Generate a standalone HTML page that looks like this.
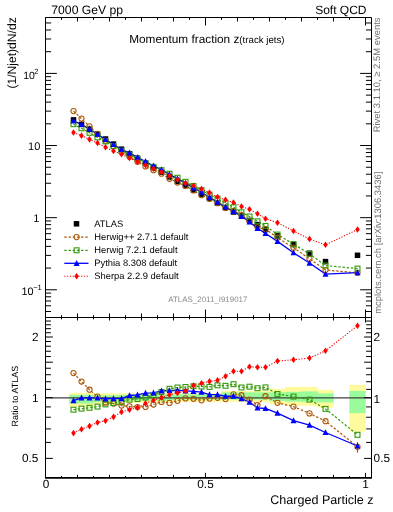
<!DOCTYPE html>
<html><head><meta charset="utf-8"><style>html,body{margin:0;padding:0;background:#fff;width:393px;height:512px;overflow:hidden}</style></head><body><svg width="393" height="512" viewBox="0 0 393 512" style="display:block;will-change:transform;text-rendering:geometricPrecision">
<rect width="393" height="512" fill="#fff"/>
<path d="M69.5 393H77.5V406.5H69.5ZM77.5 393H85.5V406.5H77.5ZM85.5 393H93.5V406.5H85.5ZM93.5 393.5H101.5V404.5H93.5ZM101.5 393.5H109.5V404.5H101.5ZM109.5 393.5H117.5V404.5H109.5ZM117.5 393.5H125.5V402.5H117.5ZM125.5 393.5H133.5V402.5H125.5ZM133.5 393.5H141.5V402.5H133.5ZM141.5 393.5H149.5V402.5H141.5ZM149.5 393.5H157.5V402.5H149.5ZM157.5 393.5H165.5V402.5H157.5ZM165.5 393.5H173.5V402.5H165.5ZM173.5 393.4H181.5V401.8H173.5ZM181.5 393.4H189.5V401.8H181.5ZM189.5 393.4H197.5V401.8H189.5ZM197.5 393.4H205.5V401.8H197.5ZM205.5 393.4H213.5V401.8H205.5ZM213.5 393.4H221.5V401.8H213.5ZM221.5 391H229.5V401.8H221.5ZM229.5 391H237.5V401.8H229.5ZM237.5 391H245.5V401.8H237.5ZM245.5 391H253.5V401.8H245.5ZM253.5 391H261.5V401.8H253.5ZM261.5 391H269.5V401.8H261.5ZM269.5 388.9H285.5V404H269.5ZM285.5 387.1H301.5V405.4H285.5ZM301.5 387.1H317.5V405.8H301.5ZM317.5 390H333.5V407.5H317.5ZM349.5 385H365.5V431.4H349.5Z" fill="#fffa9e" stroke="#fffa9e" stroke-width="0.3"/>
<path d="M69.5 395H77.5V403.5H69.5ZM77.5 395H85.5V403.5H77.5ZM85.5 395H93.5V403.5H85.5ZM93.5 395.5H101.5V402H93.5ZM101.5 395.5H109.5V402H101.5ZM109.5 395.5H117.5V402H109.5ZM117.5 395H125.5V400.5H117.5ZM125.5 395H133.5V400.5H125.5ZM133.5 395H141.5V400.5H133.5ZM141.5 395H149.5V400.5H141.5ZM149.5 395H157.5V400.5H149.5ZM157.5 395H165.5V400.5H157.5ZM165.5 395H173.5V400.5H165.5ZM173.5 394.6H181.5V399.6H173.5ZM181.5 394.6H189.5V399.6H181.5ZM189.5 394.6H197.5V399.6H189.5ZM197.5 394.6H205.5V399.6H197.5ZM205.5 394.6H213.5V399.6H205.5ZM213.5 394.6H221.5V399.6H213.5ZM221.5 392.6H229.5V399.5H221.5ZM229.5 392.6H237.5V399.5H229.5ZM237.5 392.6H245.5V399.5H237.5ZM245.5 392.6H253.5V399.5H245.5ZM253.5 392.6H261.5V399.5H253.5ZM261.5 392.6H269.5V399.5H261.5ZM269.5 392.5H285.5V400.9H269.5ZM285.5 392H301.5V401.4H285.5ZM301.5 391.5H317.5V401.8H301.5ZM317.5 393.5H333.5V402.3H317.5ZM349.5 391.1H365.5V413H349.5Z" fill="#99fb99" stroke="#99fb99" stroke-width="0.3"/>
<line x1="45.5" y1="397.95" x2="371.5" y2="397.95" stroke="#404040" stroke-width="1.2"/>
<defs><clipPath id="cu"><rect x="45.5" y="17.5" width="326" height="300"/></clipPath><clipPath id="cr"><rect x="45.5" y="317.5" width="326" height="160"/></clipPath></defs>
<polyline points="73.5,111.1 81.5,118.6 89.5,126.34 97.5,133.81 105.5,140.72 113.5,146.21 121.5,152.03 129.5,156.81 137.5,161.63 145.5,166.39 153.5,170.13 161.5,173.7 169.5,178.76 177.5,182.51 185.5,185.85 193.5,190.48 201.5,195.13 209.5,198.82 217.5,203.24 225.5,208 233.5,210.82 241.5,215.11 249.5,221.08 257.5,227.31 265.5,229.06 277.5,237.72 293.5,247.68 309.5,258.82 325.5,270.01 357.5,272.87" fill="none" stroke="#ad5708" stroke-width="1.2" stroke-dasharray="2.4 1.8" clip-path="url(#cu)"/>
<polyline points="73.5,373.1 81.5,381.5 89.5,389.7 97.5,396.6 105.5,402.5 113.5,403.6 121.5,405.6 129.5,406.4 137.5,407 145.5,406.9 153.5,404.5 161.5,401.9 169.5,402.9 177.5,400.8 185.5,398.4 193.5,398.75 201.5,400.3 209.5,398.6 217.5,397.8 225.5,399.1 233.5,394.4 241.5,395.2 249.5,399.6 257.5,405 265.5,396.2 277.5,402.8 293.5,406.6 309.5,413.4 325.5,421.2 357.5,446.8" fill="none" stroke="#ad5708" stroke-width="1.2" stroke-dasharray="2.4 1.8" clip-path="url(#cr)"/>
<polyline points="73.5,124.19 81.5,128.3 89.5,132.81 97.5,137.38 105.5,141.4 113.5,146.03 121.5,150.74 129.5,154.42 137.5,158.77 145.5,163.03 153.5,166.81 161.5,170.16 169.5,173.72 177.5,177.75 185.5,181.77 193.5,186 201.5,190.19 209.5,194.64 217.5,198.76 225.5,203.24 233.5,207.17 241.5,212.35 249.5,216.46 257.5,221.3 265.5,225.91 277.5,234.58 293.5,244.11 309.5,253.88 325.5,265.61 357.5,268.57" fill="none" stroke="#349a08" stroke-width="1.2" stroke-dasharray="2.4 1.8" clip-path="url(#cu)"/>
<polyline points="73.5,409.7 81.5,408.6 89.5,407.8 97.5,406.6 105.5,404.4 113.5,403.1 121.5,402 129.5,399.7 137.5,399 145.5,397.5 153.5,395.2 161.5,392 169.5,388.8 177.5,387.5 185.5,387 193.5,386.25 201.5,386.5 209.5,386.9 217.5,385.3 225.5,385.8 233.5,384.2 241.5,387.5 249.5,386.7 257.5,388.2 265.5,387.4 277.5,394 293.5,396.6 309.5,399.6 325.5,408.9 357.5,434.8" fill="none" stroke="#349a08" stroke-width="1.2" stroke-dasharray="2.4 1.8" clip-path="url(#cr)"/>
<polyline points="73.5,120.94 81.5,124.44 89.5,129.24 97.5,134.24 105.5,139.43 113.5,144.42 121.5,149.52 129.5,152.91 137.5,157.26 145.5,161.45 153.5,165.95 161.5,169.77 169.5,174.4 177.5,178.75 185.5,183.17 193.5,187.85 201.5,192.23 209.5,197.43 217.5,202.13 225.5,206.98 233.5,211.46 241.5,216.32 249.5,222.01 257.5,228.31 265.5,233.46 277.5,241.41 293.5,252.73 309.5,263.04 325.5,274.05 357.5,272.58" fill="none" stroke="#0000ff" stroke-width="1.3" clip-path="url(#cu)"/>
<polyline points="73.5,400.6 81.5,397.8 89.5,397.8 97.5,397.8 105.5,398.9 113.5,398.6 121.5,398.6 129.5,395.5 137.5,394.8 145.5,393.1 153.5,392.8 161.5,390.9 169.5,390.7 177.5,390.3 185.5,390.9 193.5,391.4 201.5,392.2 209.5,394.7 217.5,394.7 225.5,396.25 233.5,396.2 241.5,398.6 249.5,402.2 257.5,407.8 265.5,408.5 277.5,413.1 293.5,420.7 309.5,425.2 325.5,432.5 357.5,446" fill="none" stroke="#0000ff" stroke-width="1.3" clip-path="url(#cr)"/>
<polyline points="73.5,132.57 81.5,135.67 89.5,139.36 97.5,143.07 105.5,147.26 113.5,150.97 121.5,154.28 129.5,158.03 137.5,161.84 145.5,165.14 153.5,168.63 161.5,172.13 169.5,175.83 177.5,179.72 185.5,183.17 193.5,185.77 201.5,189.01 209.5,192.67 217.5,196.97 225.5,199.83 233.5,202.52 241.5,206.52 249.5,209.31 257.5,213.79 265.5,218.69 277.5,222.77 293.5,230.94 309.5,239 325.5,244.82 357.5,229.54" fill="none" stroke="#ff0000" stroke-width="1.1" stroke-dasharray="1.2 1.6" clip-path="url(#cu)"/>
<polyline points="73.5,433.1 81.5,429.2 89.5,426.1 97.5,422.5 105.5,420.8 113.5,416.9 121.5,411.9 129.5,409.8 137.5,407.6 145.5,403.4 153.5,400.3 161.5,397.5 169.5,394.7 177.5,393 185.5,390.9 193.5,385.6 201.5,383.2 209.5,381.4 217.5,380.3 225.5,376.25 233.5,371.2 241.5,371.2 249.5,366.7 257.5,367.2 265.5,367.2 277.5,361 293.5,359.8 309.5,358 325.5,350.8 357.5,325.7" fill="none" stroke="#ff0000" stroke-width="1.1" stroke-dasharray="1.2 1.6" clip-path="url(#cr)"/>
<line x1="357.5" y1="442" x2="357.5" y2="452.6" stroke="#ad5708" stroke-width="1.2"/>
<rect x="70.75" y="117.15" width="5.5" height="5.5" fill="#000"/>
<rect x="78.75" y="121.65" width="5.5" height="5.5" fill="#000"/>
<rect x="86.75" y="126.45" width="5.5" height="5.5" fill="#000"/>
<rect x="94.75" y="131.45" width="5.5" height="5.5" fill="#000"/>
<rect x="102.75" y="136.25" width="5.5" height="5.5" fill="#000"/>
<rect x="110.75" y="141.35" width="5.5" height="5.5" fill="#000"/>
<rect x="118.75" y="146.45" width="5.5" height="5.5" fill="#000"/>
<rect x="126.75" y="150.95" width="5.5" height="5.5" fill="#000"/>
<rect x="134.75" y="155.55" width="5.5" height="5.5" fill="#000"/>
<rect x="142.75" y="160.35" width="5.5" height="5.5" fill="#000"/>
<rect x="150.75" y="164.95" width="5.5" height="5.5" fill="#000"/>
<rect x="158.75" y="169.45" width="5.5" height="5.5" fill="#000"/>
<rect x="166.75" y="174.15" width="5.5" height="5.5" fill="#000"/>
<rect x="174.75" y="178.65" width="5.5" height="5.5" fill="#000"/>
<rect x="182.75" y="182.85" width="5.5" height="5.5" fill="#000"/>
<rect x="190.75" y="187.35" width="5.5" height="5.5" fill="#000"/>
<rect x="198.75" y="191.45" width="5.5" height="5.5" fill="#000"/>
<rect x="206.75" y="195.75" width="5.5" height="5.5" fill="#000"/>
<rect x="214.75" y="200.45" width="5.5" height="5.5" fill="#000"/>
<rect x="222.75" y="204.75" width="5.5" height="5.5" fill="#000"/>
<rect x="230.75" y="209.25" width="5.5" height="5.5" fill="#000"/>
<rect x="238.75" y="213.25" width="5.5" height="5.5" fill="#000"/>
<rect x="246.75" y="217.65" width="5.5" height="5.5" fill="#000"/>
<rect x="254.75" y="221.95" width="5.5" height="5.5" fill="#000"/>
<rect x="262.75" y="226.85" width="5.5" height="5.5" fill="#000"/>
<rect x="274.75" y="233.15" width="5.5" height="5.5" fill="#000"/>
<rect x="290.75" y="241.75" width="5.5" height="5.5" fill="#000"/>
<rect x="306.75" y="250.45" width="5.5" height="5.5" fill="#000"/>
<rect x="322.75" y="258.85" width="5.5" height="5.5" fill="#000"/>
<rect x="354.75" y="252.55" width="5.5" height="5.5" fill="#000"/>
<circle cx="73.5" cy="111.1" r="2.6" fill="none" stroke="#ad5708" stroke-width="1.05"/>
<circle cx="81.5" cy="118.6" r="2.6" fill="none" stroke="#ad5708" stroke-width="1.05"/>
<circle cx="89.5" cy="126.34" r="2.6" fill="none" stroke="#ad5708" stroke-width="1.05"/>
<circle cx="97.5" cy="133.81" r="2.6" fill="none" stroke="#ad5708" stroke-width="1.05"/>
<circle cx="105.5" cy="140.72" r="2.6" fill="none" stroke="#ad5708" stroke-width="1.05"/>
<circle cx="113.5" cy="146.21" r="2.6" fill="none" stroke="#ad5708" stroke-width="1.05"/>
<circle cx="121.5" cy="152.03" r="2.6" fill="none" stroke="#ad5708" stroke-width="1.05"/>
<circle cx="129.5" cy="156.81" r="2.6" fill="none" stroke="#ad5708" stroke-width="1.05"/>
<circle cx="137.5" cy="161.63" r="2.6" fill="none" stroke="#ad5708" stroke-width="1.05"/>
<circle cx="145.5" cy="166.39" r="2.6" fill="none" stroke="#ad5708" stroke-width="1.05"/>
<circle cx="153.5" cy="170.13" r="2.6" fill="none" stroke="#ad5708" stroke-width="1.05"/>
<circle cx="161.5" cy="173.7" r="2.6" fill="none" stroke="#ad5708" stroke-width="1.05"/>
<circle cx="169.5" cy="178.76" r="2.6" fill="none" stroke="#ad5708" stroke-width="1.05"/>
<circle cx="177.5" cy="182.51" r="2.6" fill="none" stroke="#ad5708" stroke-width="1.05"/>
<circle cx="185.5" cy="185.85" r="2.6" fill="none" stroke="#ad5708" stroke-width="1.05"/>
<circle cx="193.5" cy="190.48" r="2.6" fill="none" stroke="#ad5708" stroke-width="1.05"/>
<circle cx="201.5" cy="195.13" r="2.6" fill="none" stroke="#ad5708" stroke-width="1.05"/>
<circle cx="209.5" cy="198.82" r="2.6" fill="none" stroke="#ad5708" stroke-width="1.05"/>
<circle cx="217.5" cy="203.24" r="2.6" fill="none" stroke="#ad5708" stroke-width="1.05"/>
<circle cx="225.5" cy="208" r="2.6" fill="none" stroke="#ad5708" stroke-width="1.05"/>
<circle cx="233.5" cy="210.82" r="2.6" fill="none" stroke="#ad5708" stroke-width="1.05"/>
<circle cx="241.5" cy="215.11" r="2.6" fill="none" stroke="#ad5708" stroke-width="1.05"/>
<circle cx="249.5" cy="221.08" r="2.6" fill="none" stroke="#ad5708" stroke-width="1.05"/>
<circle cx="257.5" cy="227.31" r="2.6" fill="none" stroke="#ad5708" stroke-width="1.05"/>
<circle cx="265.5" cy="229.06" r="2.6" fill="none" stroke="#ad5708" stroke-width="1.05"/>
<circle cx="277.5" cy="237.72" r="2.6" fill="none" stroke="#ad5708" stroke-width="1.05"/>
<circle cx="293.5" cy="247.68" r="2.6" fill="none" stroke="#ad5708" stroke-width="1.05"/>
<circle cx="309.5" cy="258.82" r="2.6" fill="none" stroke="#ad5708" stroke-width="1.05"/>
<circle cx="325.5" cy="270.01" r="2.6" fill="none" stroke="#ad5708" stroke-width="1.05"/>
<circle cx="357.5" cy="272.87" r="2.6" fill="none" stroke="#ad5708" stroke-width="1.05"/>
<circle cx="73.5" cy="373.1" r="2.6" fill="none" stroke="#ad5708" stroke-width="1.05"/>
<circle cx="81.5" cy="381.5" r="2.6" fill="none" stroke="#ad5708" stroke-width="1.05"/>
<circle cx="89.5" cy="389.7" r="2.6" fill="none" stroke="#ad5708" stroke-width="1.05"/>
<circle cx="97.5" cy="396.6" r="2.6" fill="none" stroke="#ad5708" stroke-width="1.05"/>
<circle cx="105.5" cy="402.5" r="2.6" fill="none" stroke="#ad5708" stroke-width="1.05"/>
<circle cx="113.5" cy="403.6" r="2.6" fill="none" stroke="#ad5708" stroke-width="1.05"/>
<circle cx="121.5" cy="405.6" r="2.6" fill="none" stroke="#ad5708" stroke-width="1.05"/>
<circle cx="129.5" cy="406.4" r="2.6" fill="none" stroke="#ad5708" stroke-width="1.05"/>
<circle cx="137.5" cy="407" r="2.6" fill="none" stroke="#ad5708" stroke-width="1.05"/>
<circle cx="145.5" cy="406.9" r="2.6" fill="none" stroke="#ad5708" stroke-width="1.05"/>
<circle cx="153.5" cy="404.5" r="2.6" fill="none" stroke="#ad5708" stroke-width="1.05"/>
<circle cx="161.5" cy="401.9" r="2.6" fill="none" stroke="#ad5708" stroke-width="1.05"/>
<circle cx="169.5" cy="402.9" r="2.6" fill="none" stroke="#ad5708" stroke-width="1.05"/>
<circle cx="177.5" cy="400.8" r="2.6" fill="none" stroke="#ad5708" stroke-width="1.05"/>
<circle cx="185.5" cy="398.4" r="2.6" fill="none" stroke="#ad5708" stroke-width="1.05"/>
<circle cx="193.5" cy="398.75" r="2.6" fill="none" stroke="#ad5708" stroke-width="1.05"/>
<circle cx="201.5" cy="400.3" r="2.6" fill="none" stroke="#ad5708" stroke-width="1.05"/>
<circle cx="209.5" cy="398.6" r="2.6" fill="none" stroke="#ad5708" stroke-width="1.05"/>
<circle cx="217.5" cy="397.8" r="2.6" fill="none" stroke="#ad5708" stroke-width="1.05"/>
<circle cx="225.5" cy="399.1" r="2.6" fill="none" stroke="#ad5708" stroke-width="1.05"/>
<circle cx="233.5" cy="394.4" r="2.6" fill="none" stroke="#ad5708" stroke-width="1.05"/>
<circle cx="241.5" cy="395.2" r="2.6" fill="none" stroke="#ad5708" stroke-width="1.05"/>
<circle cx="249.5" cy="399.6" r="2.6" fill="none" stroke="#ad5708" stroke-width="1.05"/>
<circle cx="257.5" cy="405" r="2.6" fill="none" stroke="#ad5708" stroke-width="1.05"/>
<circle cx="265.5" cy="396.2" r="2.6" fill="none" stroke="#ad5708" stroke-width="1.05"/>
<circle cx="277.5" cy="402.8" r="2.6" fill="none" stroke="#ad5708" stroke-width="1.05"/>
<circle cx="293.5" cy="406.6" r="2.6" fill="none" stroke="#ad5708" stroke-width="1.05"/>
<circle cx="309.5" cy="413.4" r="2.6" fill="none" stroke="#ad5708" stroke-width="1.05"/>
<circle cx="325.5" cy="421.2" r="2.6" fill="none" stroke="#ad5708" stroke-width="1.05"/>
<circle cx="357.5" cy="446.8" r="2.6" fill="none" stroke="#ad5708" stroke-width="1.05"/>
<rect x="71.05" y="121.74" width="4.9" height="4.9" fill="none" stroke="#349a08" stroke-width="1.1"/>
<rect x="79.05" y="125.85" width="4.9" height="4.9" fill="none" stroke="#349a08" stroke-width="1.1"/>
<rect x="87.05" y="130.36" width="4.9" height="4.9" fill="none" stroke="#349a08" stroke-width="1.1"/>
<rect x="95.05" y="134.93" width="4.9" height="4.9" fill="none" stroke="#349a08" stroke-width="1.1"/>
<rect x="103.05" y="138.95" width="4.9" height="4.9" fill="none" stroke="#349a08" stroke-width="1.1"/>
<rect x="111.05" y="143.58" width="4.9" height="4.9" fill="none" stroke="#349a08" stroke-width="1.1"/>
<rect x="119.05" y="148.29" width="4.9" height="4.9" fill="none" stroke="#349a08" stroke-width="1.1"/>
<rect x="127.05" y="151.97" width="4.9" height="4.9" fill="none" stroke="#349a08" stroke-width="1.1"/>
<rect x="135.05" y="156.32" width="4.9" height="4.9" fill="none" stroke="#349a08" stroke-width="1.1"/>
<rect x="143.05" y="160.58" width="4.9" height="4.9" fill="none" stroke="#349a08" stroke-width="1.1"/>
<rect x="151.05" y="164.36" width="4.9" height="4.9" fill="none" stroke="#349a08" stroke-width="1.1"/>
<rect x="159.05" y="167.71" width="4.9" height="4.9" fill="none" stroke="#349a08" stroke-width="1.1"/>
<rect x="167.05" y="171.27" width="4.9" height="4.9" fill="none" stroke="#349a08" stroke-width="1.1"/>
<rect x="175.05" y="175.3" width="4.9" height="4.9" fill="none" stroke="#349a08" stroke-width="1.1"/>
<rect x="183.05" y="179.32" width="4.9" height="4.9" fill="none" stroke="#349a08" stroke-width="1.1"/>
<rect x="191.05" y="183.55" width="4.9" height="4.9" fill="none" stroke="#349a08" stroke-width="1.1"/>
<rect x="199.05" y="187.74" width="4.9" height="4.9" fill="none" stroke="#349a08" stroke-width="1.1"/>
<rect x="207.05" y="192.19" width="4.9" height="4.9" fill="none" stroke="#349a08" stroke-width="1.1"/>
<rect x="215.05" y="196.31" width="4.9" height="4.9" fill="none" stroke="#349a08" stroke-width="1.1"/>
<rect x="223.05" y="200.79" width="4.9" height="4.9" fill="none" stroke="#349a08" stroke-width="1.1"/>
<rect x="231.05" y="204.72" width="4.9" height="4.9" fill="none" stroke="#349a08" stroke-width="1.1"/>
<rect x="239.05" y="209.9" width="4.9" height="4.9" fill="none" stroke="#349a08" stroke-width="1.1"/>
<rect x="247.05" y="214.01" width="4.9" height="4.9" fill="none" stroke="#349a08" stroke-width="1.1"/>
<rect x="255.05" y="218.85" width="4.9" height="4.9" fill="none" stroke="#349a08" stroke-width="1.1"/>
<rect x="263.05" y="223.46" width="4.9" height="4.9" fill="none" stroke="#349a08" stroke-width="1.1"/>
<rect x="275.05" y="232.13" width="4.9" height="4.9" fill="none" stroke="#349a08" stroke-width="1.1"/>
<rect x="291.05" y="241.66" width="4.9" height="4.9" fill="none" stroke="#349a08" stroke-width="1.1"/>
<rect x="307.05" y="251.43" width="4.9" height="4.9" fill="none" stroke="#349a08" stroke-width="1.1"/>
<rect x="323.05" y="263.16" width="4.9" height="4.9" fill="none" stroke="#349a08" stroke-width="1.1"/>
<rect x="355.05" y="266.12" width="4.9" height="4.9" fill="none" stroke="#349a08" stroke-width="1.1"/>
<rect x="71.05" y="407.25" width="4.9" height="4.9" fill="none" stroke="#349a08" stroke-width="1.1"/>
<rect x="79.05" y="406.15" width="4.9" height="4.9" fill="none" stroke="#349a08" stroke-width="1.1"/>
<rect x="87.05" y="405.35" width="4.9" height="4.9" fill="none" stroke="#349a08" stroke-width="1.1"/>
<rect x="95.05" y="404.15" width="4.9" height="4.9" fill="none" stroke="#349a08" stroke-width="1.1"/>
<rect x="103.05" y="401.95" width="4.9" height="4.9" fill="none" stroke="#349a08" stroke-width="1.1"/>
<rect x="111.05" y="400.65" width="4.9" height="4.9" fill="none" stroke="#349a08" stroke-width="1.1"/>
<rect x="119.05" y="399.55" width="4.9" height="4.9" fill="none" stroke="#349a08" stroke-width="1.1"/>
<rect x="127.05" y="397.25" width="4.9" height="4.9" fill="none" stroke="#349a08" stroke-width="1.1"/>
<rect x="135.05" y="396.55" width="4.9" height="4.9" fill="none" stroke="#349a08" stroke-width="1.1"/>
<rect x="143.05" y="395.05" width="4.9" height="4.9" fill="none" stroke="#349a08" stroke-width="1.1"/>
<rect x="151.05" y="392.75" width="4.9" height="4.9" fill="none" stroke="#349a08" stroke-width="1.1"/>
<rect x="159.05" y="389.55" width="4.9" height="4.9" fill="none" stroke="#349a08" stroke-width="1.1"/>
<rect x="167.05" y="386.35" width="4.9" height="4.9" fill="none" stroke="#349a08" stroke-width="1.1"/>
<rect x="175.05" y="385.05" width="4.9" height="4.9" fill="none" stroke="#349a08" stroke-width="1.1"/>
<rect x="183.05" y="384.55" width="4.9" height="4.9" fill="none" stroke="#349a08" stroke-width="1.1"/>
<rect x="191.05" y="383.8" width="4.9" height="4.9" fill="none" stroke="#349a08" stroke-width="1.1"/>
<rect x="199.05" y="384.05" width="4.9" height="4.9" fill="none" stroke="#349a08" stroke-width="1.1"/>
<rect x="207.05" y="384.45" width="4.9" height="4.9" fill="none" stroke="#349a08" stroke-width="1.1"/>
<rect x="215.05" y="382.85" width="4.9" height="4.9" fill="none" stroke="#349a08" stroke-width="1.1"/>
<rect x="223.05" y="383.35" width="4.9" height="4.9" fill="none" stroke="#349a08" stroke-width="1.1"/>
<rect x="231.05" y="381.75" width="4.9" height="4.9" fill="none" stroke="#349a08" stroke-width="1.1"/>
<rect x="239.05" y="385.05" width="4.9" height="4.9" fill="none" stroke="#349a08" stroke-width="1.1"/>
<rect x="247.05" y="384.25" width="4.9" height="4.9" fill="none" stroke="#349a08" stroke-width="1.1"/>
<rect x="255.05" y="385.75" width="4.9" height="4.9" fill="none" stroke="#349a08" stroke-width="1.1"/>
<rect x="263.05" y="384.95" width="4.9" height="4.9" fill="none" stroke="#349a08" stroke-width="1.1"/>
<rect x="275.05" y="391.55" width="4.9" height="4.9" fill="none" stroke="#349a08" stroke-width="1.1"/>
<rect x="291.05" y="394.15" width="4.9" height="4.9" fill="none" stroke="#349a08" stroke-width="1.1"/>
<rect x="307.05" y="397.15" width="4.9" height="4.9" fill="none" stroke="#349a08" stroke-width="1.1"/>
<rect x="323.05" y="406.45" width="4.9" height="4.9" fill="none" stroke="#349a08" stroke-width="1.1"/>
<rect x="355.05" y="432.35" width="4.9" height="4.9" fill="none" stroke="#349a08" stroke-width="1.1"/>
<polygon points="73.5,117.59 76.5,123.54 70.5,123.54" fill="#0000ff"/>
<polygon points="81.5,121.09 84.5,127.04 78.5,127.04" fill="#0000ff"/>
<polygon points="89.5,125.89 92.5,131.84 86.5,131.84" fill="#0000ff"/>
<polygon points="97.5,130.89 100.5,136.84 94.5,136.84" fill="#0000ff"/>
<polygon points="105.5,136.08 108.5,142.03 102.5,142.03" fill="#0000ff"/>
<polygon points="113.5,141.07 116.5,147.02 110.5,147.02" fill="#0000ff"/>
<polygon points="121.5,146.17 124.5,152.12 118.5,152.12" fill="#0000ff"/>
<polygon points="129.5,149.56 132.5,155.51 126.5,155.51" fill="#0000ff"/>
<polygon points="137.5,153.91 140.5,159.86 134.5,159.86" fill="#0000ff"/>
<polygon points="145.5,158.1 148.5,164.05 142.5,164.05" fill="#0000ff"/>
<polygon points="153.5,162.6 156.5,168.55 150.5,168.55" fill="#0000ff"/>
<polygon points="161.5,166.42 164.5,172.37 158.5,172.37" fill="#0000ff"/>
<polygon points="169.5,171.05 172.5,177 166.5,177" fill="#0000ff"/>
<polygon points="177.5,175.4 180.5,181.35 174.5,181.35" fill="#0000ff"/>
<polygon points="185.5,179.82 188.5,185.77 182.5,185.77" fill="#0000ff"/>
<polygon points="193.5,184.5 196.5,190.45 190.5,190.45" fill="#0000ff"/>
<polygon points="201.5,188.88 204.5,194.83 198.5,194.83" fill="#0000ff"/>
<polygon points="209.5,194.08 212.5,200.03 206.5,200.03" fill="#0000ff"/>
<polygon points="217.5,198.78 220.5,204.73 214.5,204.73" fill="#0000ff"/>
<polygon points="225.5,203.63 228.5,209.58 222.5,209.58" fill="#0000ff"/>
<polygon points="233.5,208.11 236.5,214.06 230.5,214.06" fill="#0000ff"/>
<polygon points="241.5,212.97 244.5,218.92 238.5,218.92" fill="#0000ff"/>
<polygon points="249.5,218.66 252.5,224.61 246.5,224.61" fill="#0000ff"/>
<polygon points="257.5,224.96 260.5,230.91 254.5,230.91" fill="#0000ff"/>
<polygon points="265.5,230.11 268.5,236.06 262.5,236.06" fill="#0000ff"/>
<polygon points="277.5,238.06 280.5,244.01 274.5,244.01" fill="#0000ff"/>
<polygon points="293.5,249.38 296.5,255.33 290.5,255.33" fill="#0000ff"/>
<polygon points="309.5,259.69 312.5,265.64 306.5,265.64" fill="#0000ff"/>
<polygon points="325.5,270.7 328.5,276.65 322.5,276.65" fill="#0000ff"/>
<polygon points="357.5,269.23 360.5,275.18 354.5,275.18" fill="#0000ff"/>
<polygon points="73.5,397.25 76.5,403.2 70.5,403.2" fill="#0000ff"/>
<polygon points="81.5,394.45 84.5,400.4 78.5,400.4" fill="#0000ff"/>
<polygon points="89.5,394.45 92.5,400.4 86.5,400.4" fill="#0000ff"/>
<polygon points="97.5,394.45 100.5,400.4 94.5,400.4" fill="#0000ff"/>
<polygon points="105.5,395.55 108.5,401.5 102.5,401.5" fill="#0000ff"/>
<polygon points="113.5,395.25 116.5,401.2 110.5,401.2" fill="#0000ff"/>
<polygon points="121.5,395.25 124.5,401.2 118.5,401.2" fill="#0000ff"/>
<polygon points="129.5,392.15 132.5,398.1 126.5,398.1" fill="#0000ff"/>
<polygon points="137.5,391.45 140.5,397.4 134.5,397.4" fill="#0000ff"/>
<polygon points="145.5,389.75 148.5,395.7 142.5,395.7" fill="#0000ff"/>
<polygon points="153.5,389.45 156.5,395.4 150.5,395.4" fill="#0000ff"/>
<polygon points="161.5,387.55 164.5,393.5 158.5,393.5" fill="#0000ff"/>
<polygon points="169.5,387.35 172.5,393.3 166.5,393.3" fill="#0000ff"/>
<polygon points="177.5,386.95 180.5,392.9 174.5,392.9" fill="#0000ff"/>
<polygon points="185.5,387.55 188.5,393.5 182.5,393.5" fill="#0000ff"/>
<polygon points="193.5,388.05 196.5,394 190.5,394" fill="#0000ff"/>
<polygon points="201.5,388.85 204.5,394.8 198.5,394.8" fill="#0000ff"/>
<polygon points="209.5,391.35 212.5,397.3 206.5,397.3" fill="#0000ff"/>
<polygon points="217.5,391.35 220.5,397.3 214.5,397.3" fill="#0000ff"/>
<polygon points="225.5,392.9 228.5,398.85 222.5,398.85" fill="#0000ff"/>
<polygon points="233.5,392.85 236.5,398.8 230.5,398.8" fill="#0000ff"/>
<polygon points="241.5,395.25 244.5,401.2 238.5,401.2" fill="#0000ff"/>
<polygon points="249.5,398.85 252.5,404.8 246.5,404.8" fill="#0000ff"/>
<polygon points="257.5,404.45 260.5,410.4 254.5,410.4" fill="#0000ff"/>
<polygon points="265.5,405.15 268.5,411.1 262.5,411.1" fill="#0000ff"/>
<polygon points="277.5,409.75 280.5,415.7 274.5,415.7" fill="#0000ff"/>
<polygon points="293.5,417.35 296.5,423.3 290.5,423.3" fill="#0000ff"/>
<polygon points="309.5,421.85 312.5,427.8 306.5,427.8" fill="#0000ff"/>
<polygon points="325.5,429.15 328.5,435.1 322.5,435.1" fill="#0000ff"/>
<polygon points="357.5,442.65 360.5,448.6 354.5,448.6" fill="#0000ff"/>
<polygon points="73.5,129.27 75.8,132.57 73.5,135.87 71.2,132.57" fill="#ff0000"/>
<polygon points="81.5,132.37 83.8,135.67 81.5,138.97 79.2,135.67" fill="#ff0000"/>
<polygon points="89.5,136.06 91.8,139.36 89.5,142.66 87.2,139.36" fill="#ff0000"/>
<polygon points="97.5,139.77 99.8,143.07 97.5,146.37 95.2,143.07" fill="#ff0000"/>
<polygon points="105.5,143.96 107.8,147.26 105.5,150.56 103.2,147.26" fill="#ff0000"/>
<polygon points="113.5,147.67 115.8,150.97 113.5,154.27 111.2,150.97" fill="#ff0000"/>
<polygon points="121.5,150.98 123.8,154.28 121.5,157.58 119.2,154.28" fill="#ff0000"/>
<polygon points="129.5,154.73 131.8,158.03 129.5,161.33 127.2,158.03" fill="#ff0000"/>
<polygon points="137.5,158.54 139.8,161.84 137.5,165.14 135.2,161.84" fill="#ff0000"/>
<polygon points="145.5,161.84 147.8,165.14 145.5,168.44 143.2,165.14" fill="#ff0000"/>
<polygon points="153.5,165.33 155.8,168.63 153.5,171.93 151.2,168.63" fill="#ff0000"/>
<polygon points="161.5,168.83 163.8,172.13 161.5,175.43 159.2,172.13" fill="#ff0000"/>
<polygon points="169.5,172.53 171.8,175.83 169.5,179.13 167.2,175.83" fill="#ff0000"/>
<polygon points="177.5,176.42 179.8,179.72 177.5,183.02 175.2,179.72" fill="#ff0000"/>
<polygon points="185.5,179.87 187.8,183.17 185.5,186.47 183.2,183.17" fill="#ff0000"/>
<polygon points="193.5,182.47 195.8,185.77 193.5,189.07 191.2,185.77" fill="#ff0000"/>
<polygon points="201.5,185.71 203.8,189.01 201.5,192.31 199.2,189.01" fill="#ff0000"/>
<polygon points="209.5,189.37 211.8,192.67 209.5,195.97 207.2,192.67" fill="#ff0000"/>
<polygon points="217.5,193.67 219.8,196.97 217.5,200.27 215.2,196.97" fill="#ff0000"/>
<polygon points="225.5,196.53 227.8,199.83 225.5,203.13 223.2,199.83" fill="#ff0000"/>
<polygon points="233.5,199.22 235.8,202.52 233.5,205.82 231.2,202.52" fill="#ff0000"/>
<polygon points="241.5,203.22 243.8,206.52 241.5,209.82 239.2,206.52" fill="#ff0000"/>
<polygon points="249.5,206.01 251.8,209.31 249.5,212.61 247.2,209.31" fill="#ff0000"/>
<polygon points="257.5,210.49 259.8,213.79 257.5,217.09 255.2,213.79" fill="#ff0000"/>
<polygon points="265.5,215.39 267.8,218.69 265.5,221.99 263.2,218.69" fill="#ff0000"/>
<polygon points="277.5,219.47 279.8,222.77 277.5,226.07 275.2,222.77" fill="#ff0000"/>
<polygon points="293.5,227.64 295.8,230.94 293.5,234.24 291.2,230.94" fill="#ff0000"/>
<polygon points="309.5,235.7 311.8,239 309.5,242.3 307.2,239" fill="#ff0000"/>
<polygon points="325.5,241.52 327.8,244.82 325.5,248.12 323.2,244.82" fill="#ff0000"/>
<polygon points="357.5,226.24 359.8,229.54 357.5,232.84 355.2,229.54" fill="#ff0000"/>
<polygon points="73.5,429.8 75.8,433.1 73.5,436.4 71.2,433.1" fill="#ff0000"/>
<polygon points="81.5,425.9 83.8,429.2 81.5,432.5 79.2,429.2" fill="#ff0000"/>
<polygon points="89.5,422.8 91.8,426.1 89.5,429.4 87.2,426.1" fill="#ff0000"/>
<polygon points="97.5,419.2 99.8,422.5 97.5,425.8 95.2,422.5" fill="#ff0000"/>
<polygon points="105.5,417.5 107.8,420.8 105.5,424.1 103.2,420.8" fill="#ff0000"/>
<polygon points="113.5,413.6 115.8,416.9 113.5,420.2 111.2,416.9" fill="#ff0000"/>
<polygon points="121.5,408.6 123.8,411.9 121.5,415.2 119.2,411.9" fill="#ff0000"/>
<polygon points="129.5,406.5 131.8,409.8 129.5,413.1 127.2,409.8" fill="#ff0000"/>
<polygon points="137.5,404.3 139.8,407.6 137.5,410.9 135.2,407.6" fill="#ff0000"/>
<polygon points="145.5,400.1 147.8,403.4 145.5,406.7 143.2,403.4" fill="#ff0000"/>
<polygon points="153.5,397 155.8,400.3 153.5,403.6 151.2,400.3" fill="#ff0000"/>
<polygon points="161.5,394.2 163.8,397.5 161.5,400.8 159.2,397.5" fill="#ff0000"/>
<polygon points="169.5,391.4 171.8,394.7 169.5,398 167.2,394.7" fill="#ff0000"/>
<polygon points="177.5,389.7 179.8,393 177.5,396.3 175.2,393" fill="#ff0000"/>
<polygon points="185.5,387.6 187.8,390.9 185.5,394.2 183.2,390.9" fill="#ff0000"/>
<polygon points="193.5,382.3 195.8,385.6 193.5,388.9 191.2,385.6" fill="#ff0000"/>
<polygon points="201.5,379.9 203.8,383.2 201.5,386.5 199.2,383.2" fill="#ff0000"/>
<polygon points="209.5,378.1 211.8,381.4 209.5,384.7 207.2,381.4" fill="#ff0000"/>
<polygon points="217.5,377 219.8,380.3 217.5,383.6 215.2,380.3" fill="#ff0000"/>
<polygon points="225.5,372.95 227.8,376.25 225.5,379.55 223.2,376.25" fill="#ff0000"/>
<polygon points="233.5,367.9 235.8,371.2 233.5,374.5 231.2,371.2" fill="#ff0000"/>
<polygon points="241.5,367.9 243.8,371.2 241.5,374.5 239.2,371.2" fill="#ff0000"/>
<polygon points="249.5,363.4 251.8,366.7 249.5,370 247.2,366.7" fill="#ff0000"/>
<polygon points="257.5,363.9 259.8,367.2 257.5,370.5 255.2,367.2" fill="#ff0000"/>
<polygon points="265.5,363.9 267.8,367.2 265.5,370.5 263.2,367.2" fill="#ff0000"/>
<polygon points="277.5,357.7 279.8,361 277.5,364.3 275.2,361" fill="#ff0000"/>
<polygon points="293.5,356.5 295.8,359.8 293.5,363.1 291.2,359.8" fill="#ff0000"/>
<polygon points="309.5,354.7 311.8,358 309.5,361.3 307.2,358" fill="#ff0000"/>
<polygon points="325.5,347.5 327.8,350.8 325.5,354.1 323.2,350.8" fill="#ff0000"/>
<polygon points="357.5,322.4 359.8,325.7 357.5,329 355.2,325.7" fill="#ff0000"/>
<path d="M45.5 477.85V17.5H371.5V477.85" fill="none" stroke="#000" stroke-width="1"/>
<line x1="45.0" y1="477.85" x2="372.0" y2="477.85" stroke="#000" stroke-width="1.6"/>
<line x1="45.5" y1="317.5" x2="371.5" y2="317.5" stroke="#000" stroke-width="1"/>
<path d="M45.5 17.5v8.0M45.5 317.5v-8.0M45.5 317.5v5.0M45.5 477.85v-5.0M61.5 17.5v2.3M61.5 317.5v-2.3M61.5 317.5v1.8M61.5 477.85v-1.8M77.5 17.5v4.0M77.5 317.5v-4.0M77.5 317.5v3.0M77.5 477.85v-3.0M93.5 17.5v2.3M93.5 317.5v-2.3M93.5 317.5v1.8M93.5 477.85v-1.8M109.5 17.5v4.0M109.5 317.5v-4.0M109.5 317.5v3.0M109.5 477.85v-3.0M125.5 17.5v2.3M125.5 317.5v-2.3M125.5 317.5v1.8M125.5 477.85v-1.8M141.5 17.5v4.0M141.5 317.5v-4.0M141.5 317.5v3.0M141.5 477.85v-3.0M157.5 17.5v2.3M157.5 317.5v-2.3M157.5 317.5v1.8M157.5 477.85v-1.8M173.5 17.5v4.0M173.5 317.5v-4.0M173.5 317.5v3.0M173.5 477.85v-3.0M189.5 17.5v2.3M189.5 317.5v-2.3M189.5 317.5v1.8M189.5 477.85v-1.8M205.5 17.5v8.0M205.5 317.5v-8.0M205.5 317.5v5.0M205.5 477.85v-5.0M221.5 17.5v2.3M221.5 317.5v-2.3M221.5 317.5v1.8M221.5 477.85v-1.8M237.5 17.5v4.0M237.5 317.5v-4.0M237.5 317.5v3.0M237.5 477.85v-3.0M253.5 17.5v2.3M253.5 317.5v-2.3M253.5 317.5v1.8M253.5 477.85v-1.8M269.5 17.5v4.0M269.5 317.5v-4.0M269.5 317.5v3.0M269.5 477.85v-3.0M285.5 17.5v2.3M285.5 317.5v-2.3M285.5 317.5v1.8M285.5 477.85v-1.8M301.5 17.5v4.0M301.5 317.5v-4.0M301.5 317.5v3.0M301.5 477.85v-3.0M317.5 17.5v2.3M317.5 317.5v-2.3M317.5 317.5v1.8M317.5 477.85v-1.8M333.5 17.5v4.0M333.5 317.5v-4.0M333.5 317.5v3.0M333.5 477.85v-3.0M349.5 17.5v2.3M349.5 317.5v-2.3M349.5 317.5v1.8M349.5 477.85v-1.8M365.5 17.5v8.0M365.5 317.5v-8.0M365.5 317.5v5.0M365.5 477.85v-5.0M45.5 311.5h5.6M371.5 311.5h-5.6M45.5 305.79h5.6M371.5 305.79h-5.6M45.5 300.96h5.6M371.5 300.96h-5.6M45.5 296.78h5.6M371.5 296.78h-5.6M45.5 293.09h5.6M371.5 293.09h-5.6M45.5 289.79h11.4M371.5 289.79h-11.4M45.5 268.08h5.6M371.5 268.08h-5.6M45.5 255.38h5.6M371.5 255.38h-5.6M45.5 246.36h5.6M371.5 246.36h-5.6M45.5 239.37h5.6M371.5 239.37h-5.6M45.5 233.66h5.6M371.5 233.66h-5.6M45.5 228.83h5.6M371.5 228.83h-5.6M45.5 224.65h5.6M371.5 224.65h-5.6M45.5 220.96h5.6M371.5 220.96h-5.6M45.5 217.66h11.4M371.5 217.66h-11.4M45.5 195.95h5.6M371.5 195.95h-5.6M45.5 183.25h5.6M371.5 183.25h-5.6M45.5 174.23h5.6M371.5 174.23h-5.6M45.5 167.24h5.6M371.5 167.24h-5.6M45.5 161.53h5.6M371.5 161.53h-5.6M45.5 156.7h5.6M371.5 156.7h-5.6M45.5 152.52h5.6M371.5 152.52h-5.6M45.5 148.83h5.6M371.5 148.83h-5.6M45.5 145.53h11.4M371.5 145.53h-11.4M45.5 123.82h5.6M371.5 123.82h-5.6M45.5 111.12h5.6M371.5 111.12h-5.6M45.5 102.1h5.6M371.5 102.1h-5.6M45.5 95.11h5.6M371.5 95.11h-5.6M45.5 89.4h5.6M371.5 89.4h-5.6M45.5 84.57h5.6M371.5 84.57h-5.6M45.5 80.39h5.6M371.5 80.39h-5.6M45.5 76.7h5.6M371.5 76.7h-5.6M45.5 73.4h11.4M371.5 73.4h-11.4M45.5 51.69h5.6M371.5 51.69h-5.6M45.5 38.99h5.6M371.5 38.99h-5.6M45.5 29.97h5.6M371.5 29.97h-5.6M45.5 22.98h5.6M371.5 22.98h-5.6M45.5 458.39h7.4M371.5 458.39h-7.4M45.5 442.42h5.4M371.5 442.42h-5.4M45.5 428.93h5.4M371.5 428.93h-5.4M45.5 417.24h5.4M371.5 417.24h-5.4M45.5 406.92h5.4M371.5 406.92h-5.4M45.5 397.7h7.4M371.5 397.7h-7.4M45.5 389.36h5.4M371.5 389.36h-5.4M45.5 381.74h5.4M371.5 381.74h-5.4M45.5 374.73h5.4M371.5 374.73h-5.4M45.5 368.24h5.4M371.5 368.24h-5.4M45.5 362.2h7.4M371.5 362.2h-7.4M45.5 356.55h5.4M371.5 356.55h-5.4M45.5 351.24h5.4M371.5 351.24h-5.4M45.5 346.24h5.4M371.5 346.24h-5.4M45.5 341.5h5.4M371.5 341.5h-5.4M45.5 337.01h7.4M371.5 337.01h-7.4M45.5 332.74h5.4M371.5 332.74h-5.4M45.5 328.67h5.4M371.5 328.67h-5.4M45.5 324.78h5.4M371.5 324.78h-5.4M45.5 321.05h5.4M371.5 321.05h-5.4" stroke="#000" stroke-width="1" fill="none"/>
<text x="51.3" y="13.7" font-family="Liberation Sans, sans-serif" font-size="12.2" text-anchor="start" fill="#000" >7000 GeV pp</text>
<text x="366.5" y="13.7" font-family="Liberation Sans, sans-serif" font-size="12.0" text-anchor="end" fill="#000" >Soft QCD</text>
<text x="129.2" y="42.9" font-family="Liberation Sans, sans-serif" font-size="11.8" text-anchor="start" fill="#000" >Momentum fraction z<tspan font-size="9.7" dy="0.2">(track jets)</tspan></text>
<text x="373.5" y="504" font-family="Liberation Sans, sans-serif" font-size="12.55" text-anchor="end" fill="#000" >Charged Particle z</text>
<text x="34.9" y="78.6" font-family="Liberation Sans, sans-serif" font-size="10.5" text-anchor="end" fill="#000" >10</text>
<text x="34.2" y="73.9" font-family="Liberation Sans, sans-serif" font-size="7.6" text-anchor="start" fill="#000" >2</text>
<text x="40.3" y="149.9" font-family="Liberation Sans, sans-serif" font-size="11.0" text-anchor="end" fill="#000" >10</text>
<text x="39.3" y="221.6" font-family="Liberation Sans, sans-serif" font-size="11.0" text-anchor="end" fill="#000" >1</text>
<text x="33.5" y="295" font-family="Liberation Sans, sans-serif" font-size="10.9" text-anchor="end" fill="#000" >10</text>
<text x="33.2" y="290.2" font-family="Liberation Sans, sans-serif" font-size="7.6" text-anchor="start" fill="#000" >−1</text>
<text x="38.5" y="340.9" font-family="Liberation Sans, sans-serif" font-size="11.8" text-anchor="end" fill="#000" >2</text>
<text x="38.5" y="401.9" font-family="Liberation Sans, sans-serif" font-size="11.8" text-anchor="end" fill="#000" >1</text>
<text x="38.3" y="462.2" font-family="Liberation Sans, sans-serif" font-size="11.8" text-anchor="end" fill="#000" >0.5</text>
<text x="46" y="488.3" font-family="Liberation Sans, sans-serif" font-size="11.8" text-anchor="middle" fill="#000" >0</text>
<text x="205.5" y="488.3" font-family="Liberation Sans, sans-serif" font-size="11.8" text-anchor="middle" fill="#000" >0.5</text>
<text x="365.5" y="488.3" font-family="Liberation Sans, sans-serif" font-size="11.8" text-anchor="middle" fill="#000" >1</text>
<text x="373.6" y="340.8" font-family="Liberation Sans, sans-serif" font-size="11.8" text-anchor="start" fill="#000" >2</text>
<text x="373.6" y="402.7" font-family="Liberation Sans, sans-serif" font-size="11.8" text-anchor="start" fill="#000" >1</text>
<text x="373.6" y="462.4" font-family="Liberation Sans, sans-serif" font-size="11.8" text-anchor="start" fill="#000" >0.5</text>
<text x="0" y="0" font-family="Liberation Sans, sans-serif" font-size="12.1" text-anchor="end" fill="#000" transform="translate(15.5,17.3) rotate(-90)">(1/Njet)dN/dz</text>
<text x="0" y="0" font-family="Liberation Sans, sans-serif" font-size="9.0" text-anchor="middle" fill="#000" transform="translate(17.7,396.1) rotate(-90)">Ratio to ATLAS</text>
<text x="0" y="0" font-family="Liberation Sans, sans-serif" font-size="9.45" text-anchor="end" fill="#707070" transform="translate(379.6,17.5) rotate(-90)">Rivet 3.1.10, ≥ 2.5M events</text>
<text x="0" y="0" font-family="Liberation Sans, sans-serif" font-size="9.42" text-anchor="end" fill="#707070" transform="translate(380.7,171.6) rotate(-90)">mcplots.cern.ch [arXiv:1306.3436]</text>
<text x="168.3" y="302" font-family="Liberation Sans, sans-serif" font-size="7.95" text-anchor="start" fill="#8c8c8c" >ATLAS_2011_I919017</text>
<text x="94.3" y="226.5" font-family="Liberation Sans, sans-serif" font-size="9.37" text-anchor="start" fill="#000" >ATLAS</text>
<text x="94.3" y="239.5" font-family="Liberation Sans, sans-serif" font-size="9.37" text-anchor="start" fill="#000" >Herwig++ 2.7.1 default</text>
<text x="94.3" y="252.5" font-family="Liberation Sans, sans-serif" font-size="9.37" text-anchor="start" fill="#000" >Herwig 7.2.1 default</text>
<text x="94.3" y="265.5" font-family="Liberation Sans, sans-serif" font-size="9.37" text-anchor="start" fill="#000" >Pythia 8.308 default</text>
<text x="94.3" y="278.5" font-family="Liberation Sans, sans-serif" font-size="9.37" text-anchor="start" fill="#000" >Sherpa 2.2.9 default</text>
<rect x="73.75" y="221.05" width="5.5" height="5.5" fill="#000"/>
<line x1="64.3" y1="237.1" x2="88.5" y2="237.1" stroke="#ad5708" stroke-width="1.2" stroke-dasharray="2.4 1.8"/>
<circle cx="76.6" cy="237.1" r="2.6" fill="none" stroke="#ad5708" stroke-width="1.05"/>
<line x1="64.3" y1="250.3" x2="88.5" y2="250.3" stroke="#349a08" stroke-width="1.2" stroke-dasharray="2.4 1.8"/>
<rect x="74.15" y="247.85" width="4.9" height="4.9" fill="none" stroke="#349a08" stroke-width="1.1"/>
<line x1="64.3" y1="263.3" x2="88.5" y2="263.3" stroke="#0000ff" stroke-width="1.3"/>
<polygon points="76.6,259.95 79.6,265.9 73.6,265.9" fill="#0000ff"/>
<line x1="64.3" y1="276.3" x2="88.5" y2="276.3" stroke="#ff0000" stroke-width="1.1" stroke-dasharray="1.2 1.6"/>
<polygon points="76.6,273 78.9,276.3 76.6,279.6 74.3,276.3" fill="#ff0000"/>
</svg></body></html>
